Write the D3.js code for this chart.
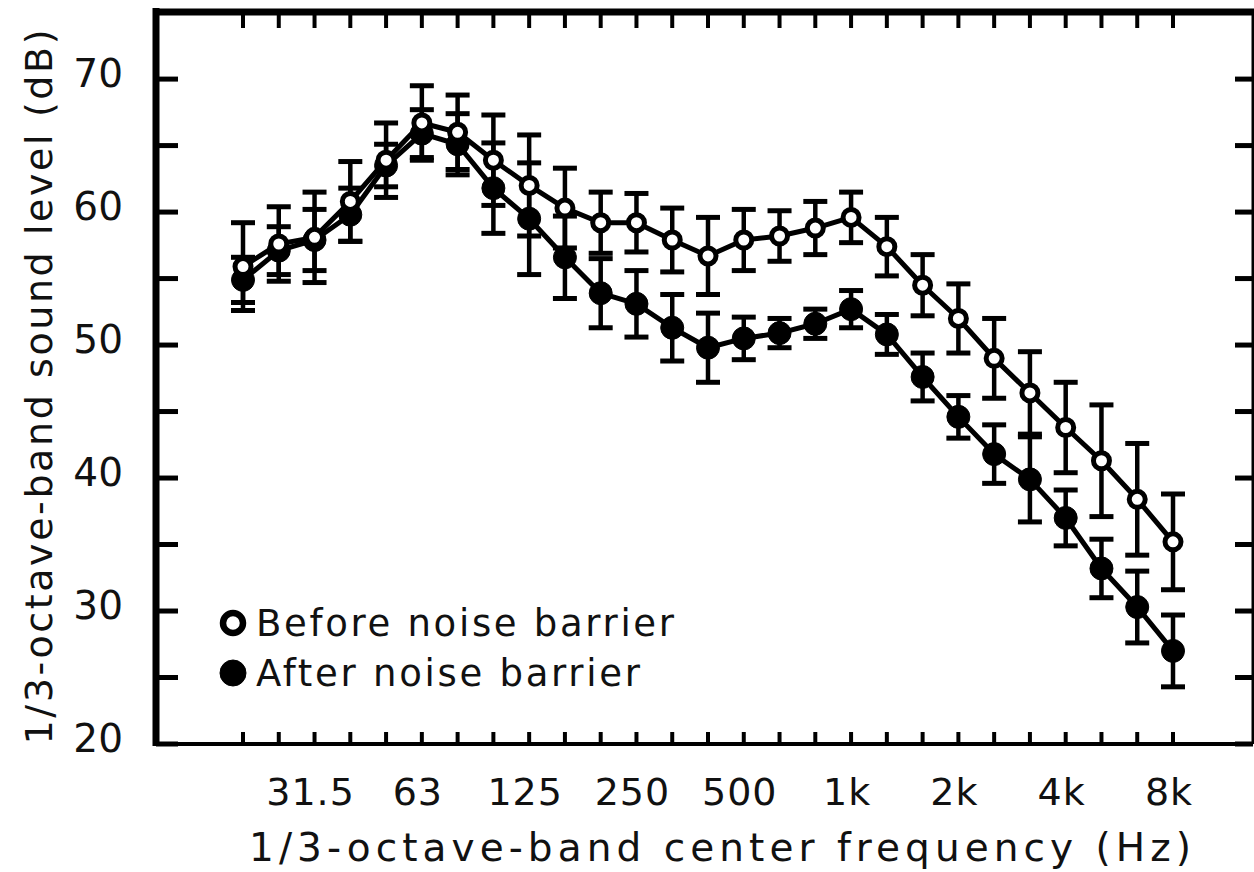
<!DOCTYPE html>
<html>
<head>
<meta charset="utf-8">
<script src="https://cdn.jsdelivr.net/npm/d3@7"></script>
<style>
  html, body { margin: 0; padding: 0; background: #fff; }
  svg { display: block; }
  text { font-family: "DejaVu Sans", "Liberation Sans", Arial, sans-serif; fill: #111; }
</style>
</head>
<body>
<svg id="chart" width="1254" height="872"></svg>
<script>
// 1/3-octave band centre frequencies (Hz)
const bands = ["20","25","31.5","40","50","63","80","100","125","160","200","250","315","400",
               "500","630","800","1k","1.25k","1.6k","2k","2.5k","3.15k","4k","5k","6.3k","8k"];
// bands that carry a tick label
const labelledBands = ["31.5","63","125","250","500","1k","2k","4k","8k"];

// mean sound level (dB) and standard deviation, before the barrier
const beforeLevel = [55.9, 57.6, 58.1, 60.8, 63.9, 66.7, 66.0, 63.9, 62.0, 60.3, 59.2, 59.2, 57.9, 56.7,
                     57.9, 58.2, 58.8, 59.6, 57.4, 54.5, 52.0, 49.0, 46.4, 43.8, 41.3, 38.4, 35.2];
const beforeSD    = [3.3, 2.8, 3.4, 3.0, 2.8, 2.8, 2.8, 3.4, 3.8, 3.0, 2.3, 2.2, 2.4, 2.9,
                     2.3, 1.9, 2.0, 1.9, 2.2, 2.3, 2.6, 3.0, 3.1, 3.4, 4.2, 4.2, 3.6];

// mean sound level (dB) and standard deviation, after the barrier
const afterLevel  = [54.9, 57.1, 57.9, 59.8, 63.5, 65.9, 65.1, 61.8, 59.5, 56.6, 53.9, 53.1, 51.3, 49.8,
                     50.5, 50.9, 51.6, 52.7, 50.8, 47.6, 44.6, 41.8, 39.9, 37.0, 33.2, 30.3, 27.0];
const afterSD     = [1.7, 1.8, 2.3, 2.0, 1.6, 1.8, 2.3, 3.4, 4.2, 3.1, 2.6, 2.5, 2.5, 2.6,
                     1.6, 1.1, 1.1, 1.4, 1.5, 1.8, 1.6, 2.2, 3.2, 2.1, 2.2, 2.7, 2.7];

const yTicks = [20, 30, 40, 50, 60, 70];
const yMinorTicks = [25, 35, 45, 55, 65];

const seriesNames = ["Before noise barrier", "After noise barrier"];

// ---- layout ----
const frame = { left: 156, right: 1253, top: 12, bottom: 744 };

const svg = d3.select("#chart");

const x = d3.scaleLinear().domain([0, bands.length - 1]).range([243, 1173]);
const y = d3.scaleLinear().domain([20, 75]).range([frame.bottom, frame.top + 0.6]);

const series = [
  { name: seriesNames[0], level: beforeLevel, sd: beforeSD, open: true },
  { name: seriesNames[1], level: afterLevel, sd: afterSD, open: false }
];

// ---- frame ----
const g = svg.append("g");
g.append("line").attr("x1", frame.left).attr("x2", frame.left)
  .attr("y1", frame.top - 4).attr("y2", frame.bottom + 2)
  .attr("stroke", "#000").attr("stroke-width", 7);
g.append("line").attr("x1", frame.left - 3).attr("x2", frame.right + 2)
  .attr("y1", frame.top).attr("y2", frame.top)
  .attr("stroke", "#000").attr("stroke-width", 7);
g.append("line").attr("x1", frame.left).attr("x2", frame.right)
  .attr("y1", frame.bottom).attr("y2", frame.bottom)
  .attr("stroke", "#000").attr("stroke-width", 4);
g.append("line").attr("x1", frame.right).attr("x2", frame.right)
  .attr("y1", frame.top).attr("y2", frame.bottom)
  .attr("stroke", "#000").attr("stroke-width", 3);

// ---- y ticks (inward on both sides) ----
const allY = yTicks.concat(yMinorTicks);
g.selectAll(".ytl").data(allY).join("line")
  .attr("x1", frame.left).attr("x2", frame.left + 22)
  .attr("y1", d => y(d)).attr("y2", d => y(d))
  .attr("stroke", "#000").attr("stroke-width", 5);
g.selectAll(".ytr").data(allY).join("line")
  .attr("x1", frame.right - 18).attr("x2", frame.right)
  .attr("y1", d => y(d)).attr("y2", d => y(d))
  .attr("stroke", "#000").attr("stroke-width", 5);

g.selectAll(".ylab").data(yTicks).join("text")
  .attr("x", 123).attr("y", d => y(d) + 8)
  .attr("text-anchor", "end")
  .attr("font-size", 39)
  .text(d => d);

// ---- x ticks (every band, bottom and top) ----
const idx = d3.range(bands.length);
g.selectAll(".xtb").data(idx).join("line")
  .attr("x1", d => x(d)).attr("x2", d => x(d))
  .attr("y1", frame.bottom).attr("y2", frame.bottom - 12)
  .attr("stroke", "#000").attr("stroke-width", 4);
g.selectAll(".xtt").data(idx).join("line")
  .attr("x1", d => x(d)).attr("x2", d => x(d))
  .attr("y1", frame.top).attr("y2", frame.top + 16)
  .attr("stroke", "#000").attr("stroke-width", 4);

g.selectAll(".xlab").data(labelledBands).join("text")
  .attr("x", d => x(bands.indexOf(d)) - 4)
  .attr("y", 805)
  .attr("text-anchor", "middle")
  .attr("font-size", 38)
  .attr("letter-spacing", 1)
  .text(d => d);

// ---- axis titles ----
svg.append("text")
  .attr("x", 720).attr("y", 861)
  .attr("text-anchor", "middle")
  .attr("font-size", 39)
  .attr("textLength", 942).attr("lengthAdjust", "spacing")
  .text("1/3-octave-band center frequency (Hz)");

svg.append("text")
  .attr("transform", "translate(52,387) rotate(-90)")
  .attr("text-anchor", "middle")
  .attr("font-size", 38)
  .attr("textLength", 715).attr("lengthAdjust", "spacing")
  .text("1/3-octave-band sound level (dB)");

// ---- data ----
const plot = svg.append("g");
const line = d3.line().x((d, i) => x(i)).y(d => y(d));

series.forEach(s => {
  plot.append("path")
    .attr("d", line(s.level))
    .attr("fill", "none").attr("stroke", "#000").attr("stroke-width", 5)
    .attr("stroke-linejoin", "round");
});

series.forEach(s => {
  const eb = plot.append("g");
  s.level.forEach((v, i) => {
    const top = y(v + s.sd[i]), bot = y(v - s.sd[i]), cx = x(i);
    eb.append("line").attr("x1", cx).attr("x2", cx).attr("y1", top).attr("y2", bot)
      .attr("stroke", "#000").attr("stroke-width", 4.5);
    [top, bot].forEach(yy => {
      eb.append("line").attr("x1", cx - 12).attr("x2", cx + 12).attr("y1", yy).attr("y2", yy)
        .attr("stroke", "#000").attr("stroke-width", 5);
    });
  });
});

// filled markers first, open markers on top
[series[1], series[0]].forEach(s => {
  plot.append("g").selectAll("circle").data(s.level).join("circle")
    .attr("cx", (d, i) => x(i)).attr("cy", d => y(d))
    .attr("r", s.open ? 8 : 11.5)
    .attr("fill", s.open ? "#fff" : "#000")
    .attr("stroke", "#000").attr("stroke-width", s.open ? 5 : 1);
});

// ---- legend ----
const legend = svg.append("g");
const legendRows = [
  { s: series[0], y: 623, textLen: 418 },
  { s: series[1], y: 673, textLen: 384 }
];
legendRows.forEach(r => {
  legend.append("circle")
    .attr("cx", 233).attr("cy", r.y)
    .attr("r", r.s.open ? 10 : 13)
    .attr("fill", r.s.open ? "#fff" : "#000")
    .attr("stroke", "#000").attr("stroke-width", r.s.open ? 6.5 : 1);
  legend.append("text")
    .attr("x", 256).attr("y", r.y + 13)
    .attr("font-size", 37)
    .attr("textLength", r.textLen).attr("lengthAdjust", "spacing")
    .text(r.s.name);
});
</script>
</body>
</html>
